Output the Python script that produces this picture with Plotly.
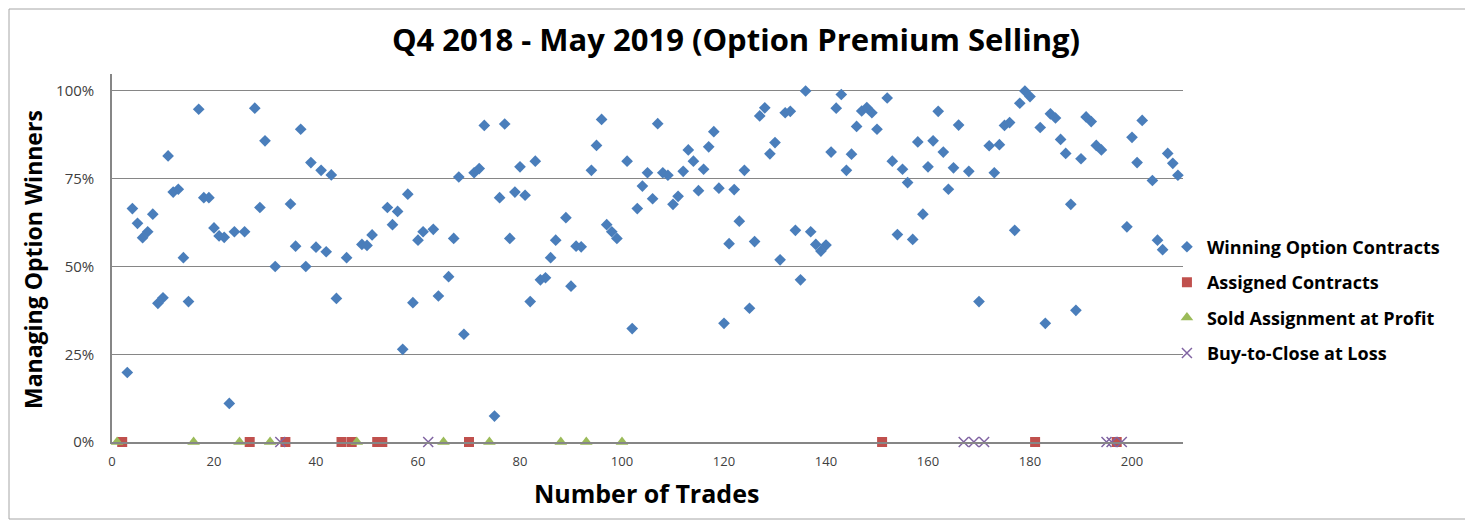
import plotly.graph_objects as go

# Winning option contracts: trade number and percent of max profit captured
win_x = [3, 4, 5, 6, 7, 8, 9, 10, 11, 12, 13, 14, 15, 17, 18, 19, 20, 21, 22, 23, 24, 26, 28, 29, 30,
         32, 35, 36, 37, 38, 39, 40, 41, 42, 43, 44, 46, 49, 50, 51, 54, 55, 56, 57, 58, 59, 60, 61,
         63, 64, 66, 67, 68, 69, 71, 72, 73, 75, 76, 77, 78, 79, 80, 81, 82, 83, 84, 85, 86, 87, 89,
         90, 91, 92, 94, 95, 96, 97, 98, 99, 101, 102, 103, 104, 105, 106, 107, 108, 109, 110, 111,
         112, 113, 114, 115, 116, 117, 118, 119, 120, 121, 122, 123, 124, 125, 126, 127, 128, 129,
         130, 131, 132, 133, 134, 135, 136, 137, 138, 139, 140, 141, 142, 143, 144, 145, 146, 147,
         148, 149, 150, 152, 153, 154, 155, 156, 157, 158, 159, 160, 161, 162, 163, 164, 165, 166,
         168, 170, 172, 173, 174, 175, 176, 177, 178, 179, 180, 182, 183, 184, 185, 186, 187, 188,
         189, 190, 191, 192, 193, 194, 199, 200, 201, 202, 204, 205, 206, 207, 208, 209]
win_y = [19.8, 66.5, 62.3, 58.2, 59.9, 64.9, 39.5, 41.1, 81.5, 71.2, 72.0, 52.5, 40.0, 94.8, 69.6,
         69.6, 61.0, 58.7, 58.3, 11.0, 59.9, 59.9, 95.1, 66.8, 85.8, 50.0, 67.8, 55.8, 89.1, 50.0,
         79.6, 55.5, 77.4, 54.2, 76.1, 40.9, 52.5, 56.3, 56.0, 59.0, 66.8, 61.9, 65.7, 26.4, 70.6,
         39.7, 57.5, 59.9, 60.6, 41.6, 47.1, 58.0, 75.5, 30.7, 76.7, 77.9, 90.2, 7.4, 69.6, 90.6,
         58.0, 71.2, 78.4, 70.3, 40.0, 80.0, 46.2, 46.8, 52.5, 57.5, 63.9, 44.4, 55.8, 55.6, 77.4,
         84.5, 91.9, 61.9, 59.9, 58.0, 80.0, 32.3, 66.5, 72.9, 76.7, 69.3, 90.7, 76.7, 76.0, 67.7,
         70.0, 77.1, 83.2, 80.0, 71.6, 77.7, 84.1, 88.4, 72.3, 33.8, 56.5, 71.9, 62.9, 77.4, 38.1,
         57.1, 92.9, 95.2, 82.1, 85.3, 51.9, 93.8, 94.2, 60.3, 46.2, 100.0, 59.9, 56.3, 54.4, 56.1,
         82.6, 95.1, 99.0, 77.4, 82.0, 89.9, 94.3, 95.3, 93.8, 89.1, 98.0, 80.0, 59.1, 77.7, 73.9,
         57.7, 85.5, 64.9, 78.4, 85.8, 94.2, 82.6, 72.0, 78.1, 90.3, 77.1, 40.0, 84.4, 76.7, 84.7,
         90.2, 91.0, 60.3, 96.5, 100.0, 98.4, 89.6, 33.8, 93.5, 92.3, 86.2, 82.2, 67.7, 37.5, 80.7,
         92.6, 91.3, 84.5, 83.2, 61.3, 86.8, 79.6, 91.6, 74.5, 57.5, 54.8, 82.2, 79.4, 76.0]

assigned_x = [2, 27, 34, 45, 47, 52, 53, 70, 151, 181, 197]
sold_x = [1, 16, 25, 31, 48, 65, 74, 88, 93, 100]
btc_x = [33, 62, 167, 169, 171, 195, 196, 198]

names = ["Winning Option Contracts", "Assigned Contracts",
         "Sold Assignment at Profit", "Buy-to-Close at Loss"]
colors = ["#4A7EBB", "#C0504D", "#9BBB59", "#8064A2"]

x_ticks = [0, 20, 40, 60, 80, 100, 120, 140, 160, 180, 200]
y_ticks = [0, 25, 50, 75, 100]
y_tick_text = ["0%", "25%", "50%", "75%", "100%"]

FONT = "Open Sans"
W, H = 1465, 518          # page body has an 8px margin
L, T, PW, PH = 104, 66, 1071, 368


def px(xp):
    return (xp - 8 - L) / PW


def py(yp):
    return (T + PH - (yp - 8)) / PH


fig = go.Figure()
fig.add_trace(go.Scatter(x=win_x, y=win_y, mode="markers", name="<b>" + names[0] + "</b>",
                         legendgroup="a",
                         marker=dict(symbol="diamond", size=9, color=colors[0]), cliponaxis=False))
fig.add_trace(go.Scatter(x=assigned_x, y=[0] * len(assigned_x), mode="markers",
                         name="<b>" + names[1] + "</b>", legendgroup="b",
                         marker=dict(symbol="square", size=10, color=colors[1]), cliponaxis=False))
fig.add_trace(go.Scatter(x=sold_x, y=[0] * len(sold_x), mode="markers",
                         name="<b>" + names[2] + "</b>", legendgroup="c",
                         marker=dict(symbol="triangle-up", size=11, color=colors[2]),
                         cliponaxis=False))
fig.add_trace(go.Scatter(x=btc_x, y=[0] * len(btc_x), mode="markers",
                         name="<b>" + names[3] + "</b>", legendgroup="d",
                         marker=dict(symbol="x-thin-open", size=10, color=colors[3],
                                     line=dict(width=1.5, color=colors[3])), cliponaxis=False))

fig.update_layout(
    width=W, height=H,
    margin=dict(l=L, r=W - L - PW, t=T, b=H - T - PH, autoexpand=False),
    paper_bgcolor="white", plot_bgcolor="white",
    font=dict(family=FONT, color="#404040"),
    title=dict(text="<b>Q4 2018 - May 2019 (Option Premium Selling)</b>",
               x=(736 - 8) / W, xref="container", xanchor="center",
               y=1 - (40 - 8) / H, yref="container", yanchor="middle",
               font=dict(family=FONT, size=31, color="black")),
    showlegend=True,
    legend=dict(x=0.985, xanchor="left", y=0.58, yanchor="top",
                font=dict(family=FONT, size=18, color="black"),
                tracegroupgap=9, bgcolor="rgba(0,0,0,0)", itemwidth=30),
    xaxis=dict(range=[0, 210], tickvals=x_ticks, showgrid=False, zeroline=False,
               showline=True, linecolor="#868686", linewidth=1.5,
               tickfont=dict(family=FONT, size=13, color="#404040"), ticks="",
               ticklabelstandoff=7),
    yaxis=dict(range=[0, 104.84], tickvals=y_ticks, ticktext=y_tick_text,
               showgrid=True, gridcolor="#868686", gridwidth=1, zeroline=False,
               showline=True, linecolor="#868686", linewidth=1.5,
               tickfont=dict(family=FONT, size=15, color="#404040"), ticks="",
               ticklabelstandoff=13),
    annotations=[
        dict(text="<b>Number of Trades</b>", x=px(646), y=py(493),
             xref="paper", yref="paper", showarrow=False, xanchor="center", yanchor="middle",
             font=dict(family=FONT, size=25, color="black")),
        dict(text="<b>Managing Option Winners</b>", x=px(33), y=py(260),
             xref="paper", yref="paper", showarrow=False, xanchor="center", yanchor="middle",
             textangle=-90, font=dict(family=FONT, size=23, color="black")),
    ],
    shapes=[dict(type="rect", xref="paper", yref="paper",
                 x0=px(9), x1=px(1468), y0=py(519), y1=py(9),
                 line=dict(color="#A6A6A6", width=1), fillcolor="rgba(0,0,0,0)", layer="below")],
)

fig.write_html("out.html")
